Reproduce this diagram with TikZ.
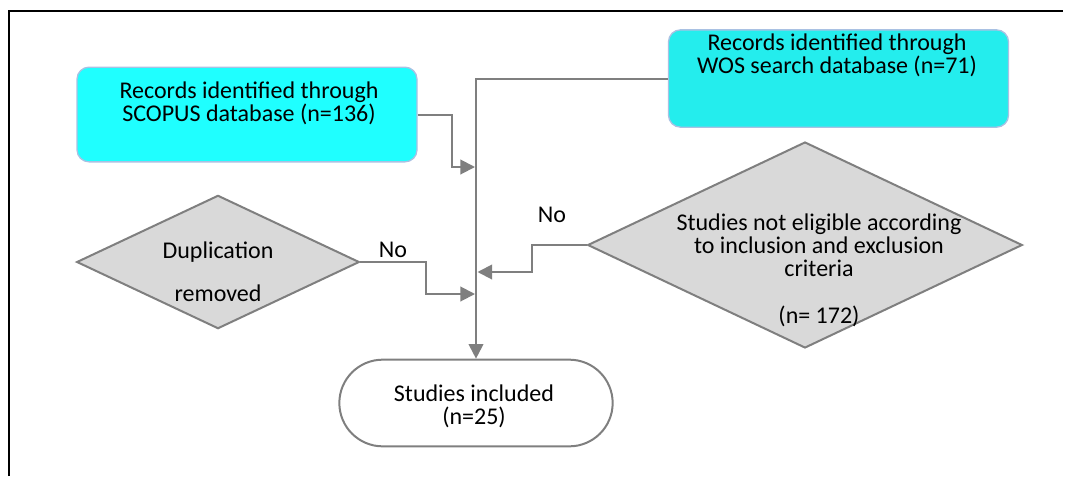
\documentclass[tikz,border=0pt]{standalone}
\usepackage{fontspec}
\setmainfont{Carlito}
\usepackage{tikz}
\usetikzlibrary{arrows.meta}
\usetikzlibrary{shapes.geometric}
\usetikzlibrary{shapes.misc}
\definecolor{LineGray}{HTML}{7F7F7F}
\definecolor{DiamondFill}{HTML}{D9D9D9}
\definecolor{ScopusCyan}{HTML}{1FFFFF}
\definecolor{WosCyan}{HTML}{24EDED}
\definecolor{SourceEdge}{HTML}{A9C1E3}

\begin{document}
\begin{tikzpicture}[x=0.75pt, y=-0.75pt,
    every node/.style={font=\fontsize{18}{17.25}\selectfont, inner sep=0pt},
    source/.style={rectangle, rounded corners=9pt, draw=SourceEdge, line width=1pt,
      minimum width=255pt, minimum height=#1},
    decision/.style={diamond, draw=LineGray, fill=DiamondFill, line width=1.5pt},
    flow/.style={draw=LineGray, line width=1.5pt,
      -{Triangle[length=11pt, width=11pt]}}]
\useasboundingbox (0,0) rectangle (1067,476);

  % frame
\draw[line width=1.5pt] (9,476) -- (9,11) -- (1063,11);

  % sources
\node[source=71pt, fill=ScopusCyan] (scopus) at (247,114.5) {};
\node[align=center] (scopustext) at (249,103.5) {Records identified through\\SCOPUS database (n=136)};
\node[source=73pt, fill=WosCyan] (wos) at (838.5,78.5) {};
\node[align=center] (wostext) at (837,55.5) {Records identified through\\WOS search database (n=71)};

  % decisions
\node[decision, minimum width=212pt, minimum height=100pt] (dup) at (218,262) {};
\node[align=center] (duptext) at (218,271.5) {Duplication\\[15pt]removed};
\node[decision, minimum width=326pt, minimum height=154.5pt] (elig) at (805,245) {};
\node[align=center] (eligtext) at (819,270.5)
  {Studies not eligible according\\to inclusion and exclusion\\criteria\\[18pt](n= 172)};

  % result
\node[rounded rectangle, draw=LineGray, line width=1.5pt, minimum width=205pt,
  minimum height=65pt] (incl) at (476,403) {};
\node[align=center] (incltext) at (474,406.5) {Studies included\\(n=25)};

  % connectors
\coordinate (j1) at (475,167);
\coordinate (j2) at (475,294);
\coordinate (j3) at (477.5,272);
\draw[flow] (wos.west) -| (incl.north);
\draw[flow] (scopus.east) -- ++(34,0) |- (j1);
\draw[flow] (dup.east) -- ++(66,0) |- (j2);
\draw[flow] (elig.west) -- ++(-55,0) |- (j3);
\node (no1) at (393,250) {No};
\node (no2) at (552,215) {No};
\end{tikzpicture}
\end{document}
